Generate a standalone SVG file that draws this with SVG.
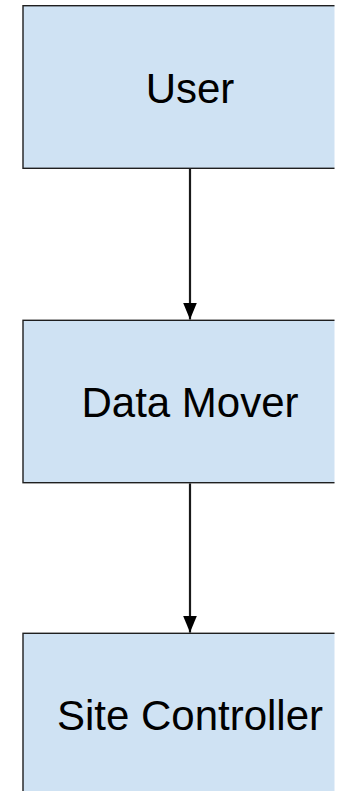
<svg xmlns="http://www.w3.org/2000/svg" width="337" height="791" viewBox="0 0 337 791">
  <style>
    .box { fill: #cfe2f3; stroke: #1f1f1f; stroke-width: 1.4; }
    .lbl { font-family: "Liberation Sans", Arial, sans-serif; font-size: 42px; fill: #000; text-anchor: middle; }
    .conn { stroke: #1a1a1a; stroke-width: 2.2; fill: none; }
  </style>
  <defs>
    <clipPath id="crop"><rect x="0" y="0" width="334.5" height="791"/></clipPath>
    <marker id="arrow" viewBox="0 0 17 14" refX="17" refY="7" markerWidth="17" markerHeight="14" markerUnits="userSpaceOnUse" orient="auto">
      <path d="M0,0 L17,7 L0,14 Z" fill="#000"/>
    </marker>
  </defs>
  <rect width="337" height="791" fill="#fff"/>
  <g clip-path="url(#crop)">
    <g id="node-user">
      <rect class="box" x="23" y="5.7" width="334" height="162.6"/>
      <text class="lbl" x="190" y="103.3">User</text>
    </g>
    <g id="node-data-mover">
      <rect class="box" x="23" y="320.3" width="334" height="162.4"/>
      <text class="lbl" x="190" y="416.7">Data Mover</text>
    </g>
    <g id="node-site-controller">
      <rect class="box" x="23" y="633.3" width="334" height="165"/>
      <text class="lbl" x="190" y="730">Site Controller</text>
    </g>
  </g>
  <g id="connectors">
    <line class="conn" x1="190" y1="169" x2="190" y2="319.5" marker-end="url(#arrow)"/>
    <line class="conn" x1="190" y1="483.4" x2="190" y2="632.6" marker-end="url(#arrow)"/>
  </g>
</svg>
